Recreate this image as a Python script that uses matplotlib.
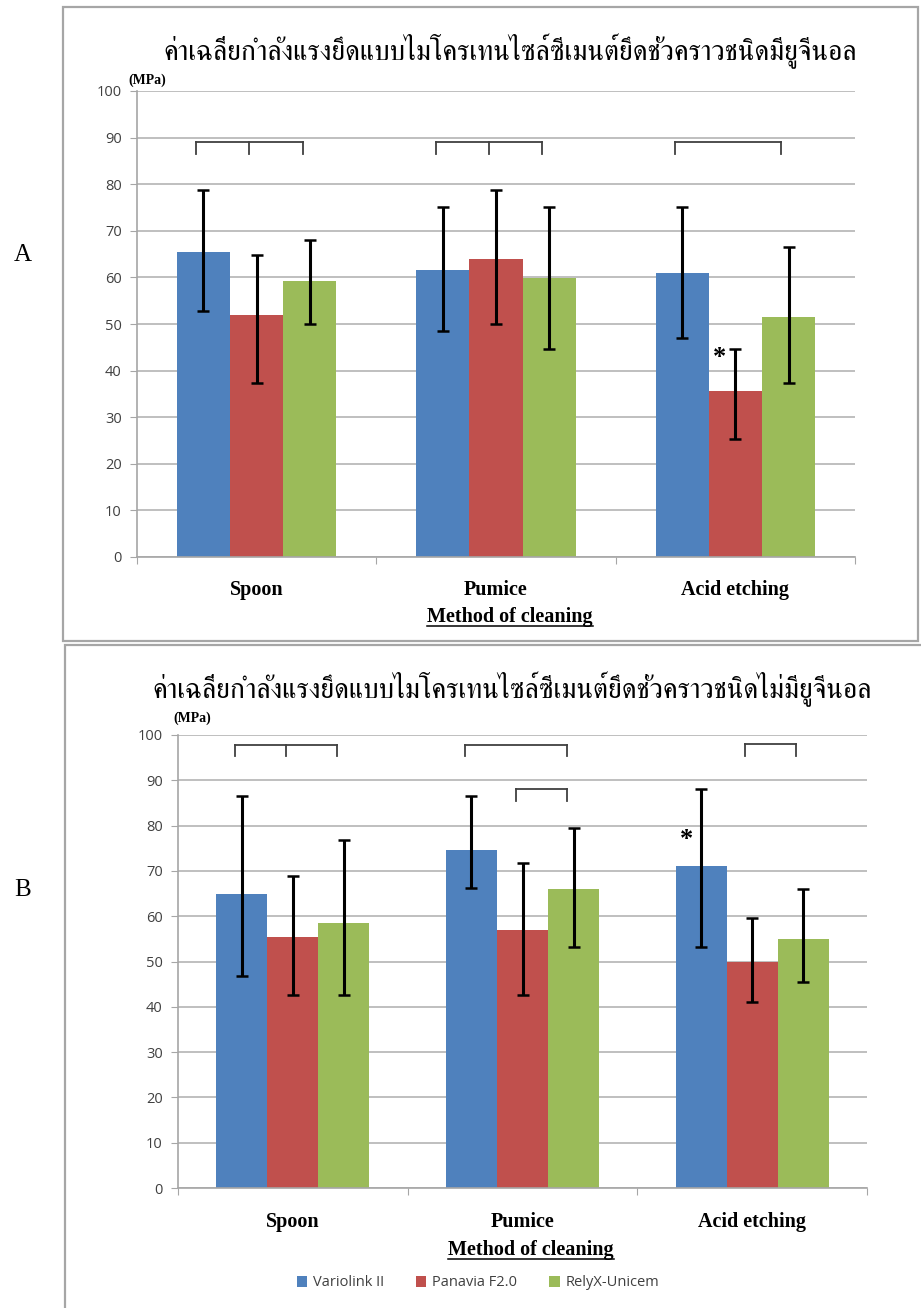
import matplotlib
matplotlib.use('Agg')
import matplotlib.pyplot as plt
from matplotlib import font_manager
from matplotlib.ft2font import FT2Font
from matplotlib.patches import Rectangle, Patch
import numpy as np

# ---------------- data ----------------
methods = ['Spoon', 'Pumice', 'Acid etching']
cements = ['Variolink II', 'Panavia F2.0', 'RelyX-Unicem']
colors = ['#4F81BD', '#C0504D', '#9BBB59']
yticks = [0, 10, 20, 30, 40, 50, 60, 70, 80, 90, 100]

title_a = 'ค่าเฉลี่ยกำลังแรงยึดแบบไมโครเทนไซล์ซีเมนต์ยึดชั่วคราวชนิดมียูจีนอล'
title_b = 'ค่าเฉลี่ยกำลังแรงยึดแบบไมโครเทนไซล์ซีเมนต์ยึดชั่วคราวชนิดไม่มียูจีนอล'

# Chart A (with eugenol)
a_variolink = [65.4, 61.6, 61.0]
a_panavia = [51.9, 63.9, 35.7]
a_relyx = [59.2, 59.9, 51.4]
a_variolink_hi = [78.8, 75.2, 75.2]
a_panavia_hi = [64.9, 78.8, 44.6]
a_relyx_hi = [68.0, 75.2, 66.6]
a_variolink_lo = [52.7, 48.6, 47.1]
a_panavia_lo = [37.3, 50.1, 25.4]
a_relyx_lo = [50.1, 44.6, 37.3]
# brackets: (group, bars joined, height)
a_brackets = [(0, [0, 1, 2], 89.0), (1, [0, 1, 2], 89.0), (2, [0, 2], 89.0)]
# asterisks: (group, bar, height)
a_stars = [(2, 1, 42.8)]

# Chart B (eugenol-free)
b_variolink = [64.9, 74.7, 71.0]
b_panavia = [55.3, 56.9, 50.0]
b_relyx = [58.5, 65.9, 54.9]
b_variolink_hi = [86.6, 86.6, 88.1]
b_panavia_hi = [68.9, 71.8, 59.6]
b_relyx_hi = [76.9, 79.5, 66.1]
b_variolink_lo = [46.9, 66.3, 53.1]
b_panavia_lo = [42.5, 42.5, 41.0]
b_relyx_lo = [42.5, 53.1, 45.5]
b_brackets = [(0, [0, 1, 2], 97.9), (1, [0, 2], 97.9), (1, [1, 2], 88.1), (2, [1, 2], 98.0)]
b_stars = [(2, 0, 76.9)]

# ---------------- fonts ----------------
def find_font(ch, prefer=()):
    hits = []
    for f in font_manager.fontManager.ttflist:
        try:
            cmap = FT2Font(f.fname).get_charmap()
        except Exception:
            continue
        if ord(ch) in cmap:
            hits.append(f.name)
    for p in prefer:
        for h in hits:
            if p.lower() in h.lower():
                return h
    return hits[0] if hits else 'DejaVu Sans'

thai_font = find_font('ฉ', prefer=('Serif', 'Thai', 'Noto'))
serif = 'Liberation Serif'
sans = 'Open Sans'

# ---------------- figure ----------------
W, H = 921, 1308
fig = plt.figure(figsize=(W / 100, H / 100), dpi=100)

def fx(px):
    return px / W

def fy(py):
    return 1 - py / H

# panel frames
fig.patches.append(Rectangle((fx(63), fy(641)), fx(918 - 63), (641 - 7) / H,
                             transform=fig.transFigure, fill=False,
                             edgecolor='#a6a6a6', linewidth=1.6))
fig.patches.append(Rectangle((fx(65), fy(1310)), fx(930 - 65), (1310 - 645) / H,
                             transform=fig.transFigure, fill=False,
                             edgecolor='#a6a6a6', linewidth=1.6))

bw = 1 / 4.5
offsets = [-bw, 0.0, bw]


def draw_panel(rect, means, his, los, brackets, stars, title, title_xy,
               mpa_xy, lbl_y, xlabel_xy):
    ax = fig.add_axes(rect)
    x = np.arange(len(methods))
    for i in range(3):
        m = np.array(means[i])
        yerr = [m - np.array(los[i]), np.array(his[i]) - m]
        ax.bar(x + offsets[i], m, width=bw, color=colors[i], zorder=2,
               label=cements[i])
        ax.errorbar(x + offsets[i], m, yerr=yerr, fmt='none', ecolor='black',
                    elinewidth=2.2, capsize=4.5, capthick=1.8, zorder=3)
    ax.set_xlim(-0.5, 2.5)
    ax.set_ylim(0, 100)
    ax.set_yticks(yticks)
    ax.set_yticklabels([str(v) for v in yticks], fontsize=10.5,
                       color='#404040', family=sans)
    ax.yaxis.grid(True, color='#bfbfbf', linewidth=1.4, zorder=0)
    ax.set_axisbelow(True)
    for s in ['top', 'right']:
        ax.spines[s].set_visible(False)
    ax.spines['left'].set_color('#a6a6a6')
    ax.spines['bottom'].set_color('#a6a6a6')
    ax.spines['left'].set_linewidth(1.2)
    ax.spines['bottom'].set_linewidth(1.2)
    ax.tick_params(axis='y', length=5, color='#a6a6a6', pad=6)
    ax.set_xticks([-0.5, 0.5, 1.5, 2.5])
    ax.set_xticklabels([])
    ax.tick_params(axis='x', length=5, color='#a6a6a6')
    # brackets
    for g, idx, h in brackets:
        xs = [g + offsets[k] - 0.03 for k in idx]
        ax.plot([xs[0], xs[-1]], [h, h], color='#404040', lw=1.3, zorder=4)
        for xv in xs:
            ax.plot([xv, xv], [h, h - 2.6], color='#404040', lw=1.3, zorder=4)
    for g, k, h in stars:
        ax.text(g + offsets[k] - 0.065, h, '*', ha='center', va='center',
                fontsize=19, fontweight='bold', family=serif, zorder=5)
    # category labels
    for i, name in enumerate(methods):
        xd = ax.transData.transform((i, 0))[0]
        fig.text(xd / W, fy(lbl_y), name, ha='center', va='center',
                 family=serif, fontweight='bold', fontsize=14.5)
    t = fig.text(fx(xlabel_xy[0]), fy(xlabel_xy[1]), 'Method of cleaning',
                 ha='center', va='center', family=serif, fontweight='bold',
                 fontsize=14.5)
    # underline
    fig.canvas.draw()
    bb = t.get_window_extent()
    fig.add_artist(plt.Line2D([bb.x0 / W, bb.x1 / W],
                              [(bb.y0 + 1) / H, (bb.y0 + 1) / H],
                              transform=fig.transFigure, color='black', lw=1.1))
    fig.text(fx(title_xy[0]), fy(title_xy[1]), title, ha='center', va='center',
             family=[thai_font, 'DejaVu Sans'], fontsize=20)
    fig.text(fx(mpa_xy[0]), fy(mpa_xy[1]), '(MPa)', ha='left', va='center',
             family=serif, fontweight='bold', fontsize=10)
    return ax


axA = draw_panel([fx(137), fy(557), fx(855 - 137), (557 - 91) / H],
                 [a_variolink, a_panavia, a_relyx],
                 [a_variolink_hi, a_panavia_hi, a_relyx_hi],
                 [a_variolink_lo, a_panavia_lo, a_relyx_lo],
                 a_brackets, a_stars, title_a, (510, 50), (128, 80), 590,
                 (510, 617))

axB = draw_panel([fx(178), fy(1188), fx(867 - 178), (1188 - 735) / H],
                 [b_variolink, b_panavia, b_relyx],
                 [b_variolink_hi, b_panavia_hi, b_relyx_hi],
                 [b_variolink_lo, b_panavia_lo, b_relyx_lo],
                 b_brackets, b_stars, title_b, (512, 688), (173, 718), 1222,
                 (531, 1250))

handles = [Patch(facecolor=c, edgecolor='none') for c in colors]
fig.legend(handles, cements, loc='center', bbox_to_anchor=(fx(478), fy(1283)),
           ncol=3, frameon=False, prop={'family': sans, 'size': 10.5},
           handlelength=0.7, handleheight=0.7, handletextpad=0.4,
           columnspacing=2.2, labelcolor='#404040')

fig.text(fx(23), fy(255), 'A', family=serif, fontsize=18, ha='center', va='center')
fig.text(fx(23), fy(890), 'B', family=serif, fontsize=18, ha='center', va='center')

fig.savefig('out.png', dpi=100)
